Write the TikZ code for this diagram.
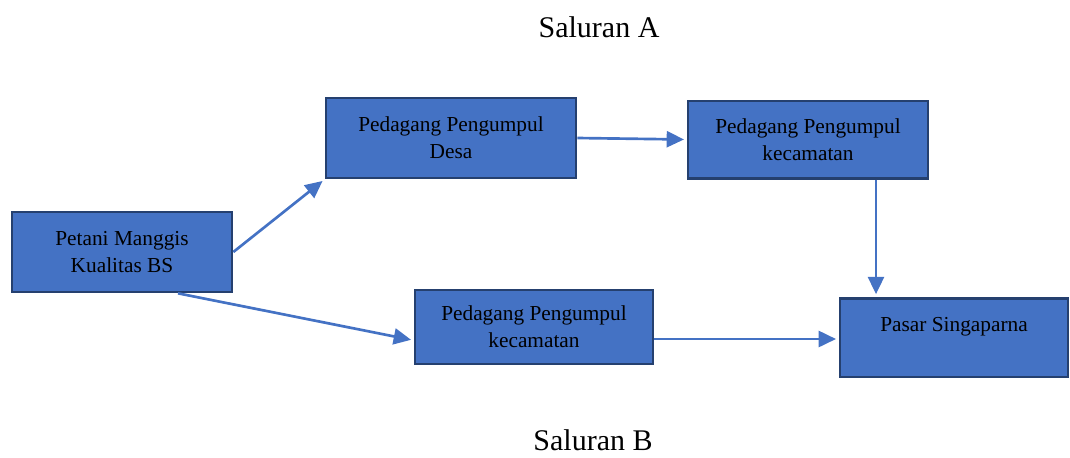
\documentclass[tikz,border=0pt]{standalone}
\usepackage{xcolor}
\usepackage{fontspec}
\setmainfont{Liberation Serif}
\usetikzlibrary{arrows.meta}

\definecolor{boxfill}{HTML}{4472C4}
\definecolor{boxline}{HTML}{25406F}

\tikzset{
    channelbox/.style={draw=boxline, fill=boxfill, line width=2pt,
        align=center, font=\fontsize{16}{20}\selectfont, inner sep=2pt},
    flow/.style={draw=boxfill, line width=2pt,
        -{Triangle[length=13pt,width=12pt]}, shorten >=2pt},
    heading/.style={font=\fontsize{22.5}{27}\selectfont, inner sep=0pt}
}

\begin{document}
\begin{tikzpicture}[x=0.75pt, y=-0.75pt]

    % Canvas
    \useasboundingbox (0, 0) rectangle (1070, 457);

    % Headings
    \node[heading] (titleA) at (599, 27) {Saluran A};
    \node[heading] (titleB) at (593, 440) {Saluran B};

    % Boxes
    \node[channelbox, minimum width=165pt, minimum height=60pt] (petani) at (122, 252) {Petani Manggis\\Kualitas BS};
    \node[channelbox, minimum width=187.5pt, minimum height=60pt] (desa) at (451, 138) {Pedagang Pengumpul\\Desa};
    \node[channelbox, minimum width=180pt, minimum height=58pt] (kecA) at (808, 139.5) {Pedagang Pengumpul\\kecamatan};
    \node[channelbox, minimum width=178.5pt, minimum height=55.5pt] (kecB) at (534, 327) {Pedagang Pengumpul\\kecamatan};
    \node[channelbox, minimum width=171pt, minimum height=59pt, text depth=20pt] (pasar) at (954, 337.5) {Pasar Singaparna};

    % Saluran A
    \draw[flow] (petani.east) -- (desa.south west);
    \draw[flow] (desa.east) -- (kecA.west);
    \draw[flow] ([xshift=51pt]kecA.south) -- ([xshift=51pt]kecA.south |- pasar.north);

    % Saluran B
    \draw[flow] ([xshift=42pt]petani.south) -- ([yshift=-10pt]kecB.west);
    \draw[flow] ([yshift=-9pt]kecB.east) -- ([yshift=-9pt]kecB.east -| pasar.west);

\end{tikzpicture}
\end{document}
